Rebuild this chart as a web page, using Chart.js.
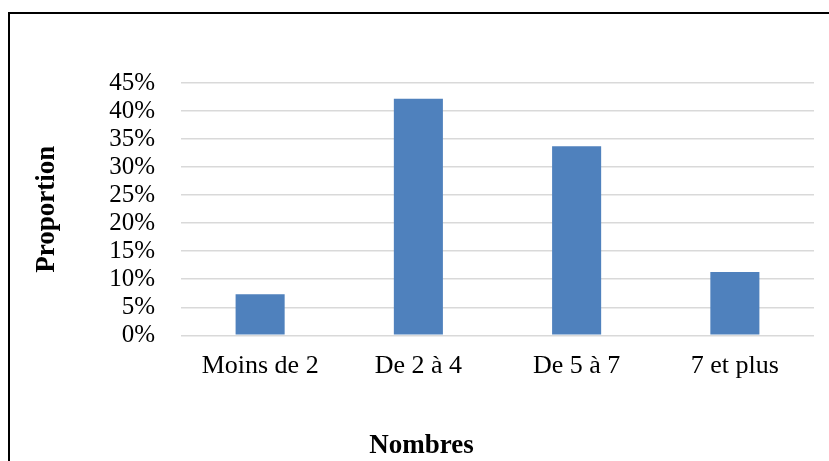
<!DOCTYPE html>
<html>
<head>
<meta charset="utf-8">
<script src="https://cdn.jsdelivr.net/npm/chart.js@4"></script>
<style>
  html, body { margin: 0; padding: 0; background: #fff; overflow: hidden; }
  #wrap { position: relative; width: 829px; height: 461px; }
  #frame { position: absolute; left: 8px; top: 12px; width: 900px; height: 500px; border: 2px solid #000; box-sizing: border-box; }
  canvas { position: absolute; left: 0; top: 0; }
</style>
</head>
<body>
<div id="wrap">
  <div id="frame"></div>
  <canvas id="c" width="829" height="461"></canvas>
</div>
<script>
const categories = ['Moins de 2', 'De 2 à 4', 'De 5 à 7', '7 et plus'];
const proportions = [7.3, 42.2, 33.7, 11.3];
const yAxisTitle = 'Proportion';
const xAxisTitle = 'Nombres';

const serif = "'Liberation Serif', 'Times New Roman', serif";

new Chart(document.getElementById('c'), {
  type: 'bar',
  data: {
    labels: categories,
    datasets: [{
      data: proportions,
      backgroundColor: '#4f81bd',
      borderWidth: 0,
      barPercentage: 0.31,
      categoryPercentage: 1.0
    }]
  },
  options: {
    responsive: false,
    animation: false,
    devicePixelRatio: 1,
    layout: { padding: { left: 29, right: 15, top: 83, bottom: 0 } },
    plugins: {
      legend: { display: false },
      tooltip: { enabled: false },
      title: {
        display: true,
        position: 'bottom',
        text: xAxisTitle,
        color: '#000',
        font: { family: serif, size: 27, weight: 'bold', lineHeight: 1.1 },
        padding: { top: 0, bottom: 0 }
      }
    },
    scales: {
      x: {
        grid: { display: false, drawTicks: false },
        border: { display: false },
        ticks: {
          color: '#000',
          font: { family: serif, size: 26 },
          padding: 15,
          maxRotation: 0,
          autoSkip: false
        },
        afterFit: (s) => { s.height = 96; }
      },
      y: {
        min: 0,
        max: 45,
        grid: { color: '#d9d9d9', lineWidth: 1.5, drawTicks: false },
        border: { display: false },
        ticks: {
          stepSize: 5,
          autoSkip: false,
          color: '#000',
          font: { family: serif, size: 25 },
          padding: 26,
          callback: (v) => v + '%'
        },
        title: {
          display: true,
          text: yAxisTitle,
          color: '#000',
          font: { family: serif, size: 27, weight: 'bold' },
          padding: { top: 2, bottom: 4 }
        },
        afterFit: (s) => { s.width = 152; }
      }
    }
  }
});
</script>
</body>
</html>
